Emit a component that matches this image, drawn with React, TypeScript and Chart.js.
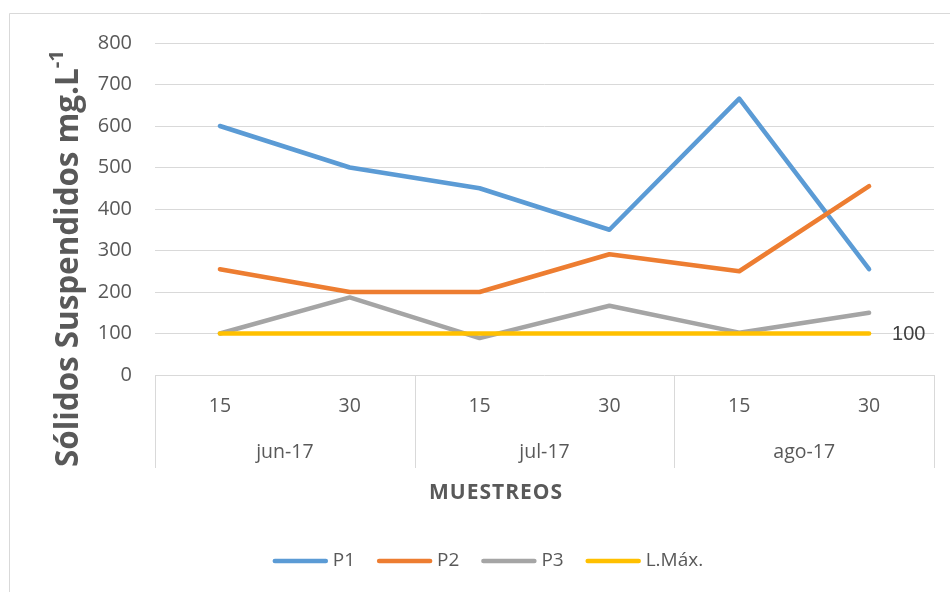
import React, { useEffect, useRef } from "react";
import { Chart, registerables } from "chart.js";

Chart.register(...registerables);

const days = ["15", "30", "15", "30", "15", "30"];
const months = ["jun-17", "jul-17", "ago-17"];
const p1 = [600, 500, 450, 350, 666, 255];
const p2 = [255, 200, 200, 291, 250, 455];
const p3 = [100, 187, 89, 167, 102, 150];
const lmax = [100, 100, 100, 100, 100, 100];
const yTicks = [0, 100, 200, 300, 400, 500, 600, 700, 800];

const FONT = "'Open Sans', 'Noto Sans', sans-serif";
const TXT = "#595959";
const GRID = "#d9d9d9";

const overlay = {
  id: "overlay",
  beforeDraw(chart: any) {
    const ctx = chart.ctx;
    ctx.save();
    ctx.fillStyle = "#ffffff";
    ctx.fillRect(0, 0, chart.width, chart.height);
    ctx.strokeStyle = GRID;
    ctx.lineWidth = 1;
    ctx.beginPath();
    ctx.moveTo(9.5, chart.height + 5);
    ctx.lineTo(9.5, 13.5);
    ctx.lineTo(chart.width + 5, 13.5);
    ctx.stroke();
    ctx.restore();
  },
  afterDraw(chart: any) {
    const ctx = chart.ctx;
    const xs = chart.scales.x;
    const ys = chart.scales.y;
    const area = chart.chartArea;
    ctx.save();
    // separators
    ctx.strokeStyle = GRID;
    ctx.lineWidth = 1;
    const groupW = (area.right - area.left) / months.length;
    ctx.beginPath();
    for (let i = 0; i <= months.length; i++) {
      const x = Math.round(area.left + groupW * i) + 0.5;
      ctx.moveTo(x, area.bottom);
      ctx.lineTo(x, 468);
    }
    ctx.stroke();
    // day labels
    ctx.fillStyle = TXT;
    ctx.font = `19.5px ${FONT}`;
    ctx.textAlign = "center";
    ctx.textBaseline = "middle";
    days.forEach((d, i) => {
      ctx.fillText(d, xs.getPixelForValue(i), 406);
    });
    months.forEach((m, i) => {
      const x = (xs.getPixelForValue(i * 2) + xs.getPixelForValue(i * 2 + 1)) / 2;
      ctx.fillText(m, x, 452);
    });
    // x title
    ctx.font = `bold 21px ${FONT}`;
    (ctx as any).letterSpacing = "1px";
    ctx.fillText("MUESTREOS", 496, 493);
    (ctx as any).letterSpacing = "0px";
    // y title
    ctx.save();
    ctx.translate(69, 258.5);
    ctx.rotate(-Math.PI / 2);
    const main = "Sólidos Suspendidos mg.L";
    const sup = "-1";
    const base = 26;
    ctx.font = `bold ${base}px ${FONT}`;
    const w0 = ctx.measureText(main).width;
    ctx.font = `bold ${base * 0.65}px ${FONT}`;
    const s0 = ctx.measureText(sup).width;
    const k = 417 / (w0 + s0);
    const fMain = base * k;
    const fSup = base * 0.65 * k;
    ctx.font = `bold ${fMain}px ${FONT}`;
    const wMain = ctx.measureText(main).width;
    ctx.font = `bold ${fSup}px ${FONT}`;
    const wSup = ctx.measureText(sup).width;
    const total = wMain + wSup;
    ctx.textAlign = "left";
    ctx.textBaseline = "middle";
    ctx.font = `bold ${fMain}px ${FONT}`;
    ctx.fillText(main, -total / 2, 0);
    ctx.font = `bold ${fSup}px ${FONT}`;
    ctx.fillText(sup, -total / 2 + wMain, -fMain * 0.38);
    ctx.restore();
    // data label
    ctx.font = `20px 'Liberation Sans', Arial, sans-serif`;
    ctx.fillStyle = "#404040";
    ctx.textAlign = "left";
    ctx.textBaseline = "middle";
    ctx.fillText(String(lmax[lmax.length - 1]), xs.getPixelForValue(lmax.length - 1) + 23, ys.getPixelForValue(lmax[lmax.length - 1]) + 1);
    // legend
    const items = chart.data.datasets.map((d: any) => ({ label: d.label, color: d.borderColor }));
    ctx.font = `19px ${FONT}`;
    const lineW = 55;
    const gapT = 5;
    const gapI = 22;
    let total2 = 0;
    items.forEach((it: any, i: number) => {
      total2 += lineW + gapT + ctx.measureText(it.label).width + (i < items.length - 1 ? gapI : 0);
    });
    let x = 488 - total2 / 2;
    const ly = 561;
    items.forEach((it: any) => {
      ctx.strokeStyle = it.color;
      ctx.lineWidth = 4.5;
      ctx.lineCap = "round";
      ctx.beginPath();
      ctx.moveTo(x + 2, ly);
      ctx.lineTo(x + lineW - 2, ly);
      ctx.stroke();
      x += lineW + gapT;
      ctx.fillStyle = TXT;
      ctx.fillText(it.label, x, ly);
      x += ctx.measureText(it.label).width + gapI;
    });
    ctx.restore();
  },
};

export default function App() {
  const ref = useRef<HTMLCanvasElement | null>(null);
  useEffect(() => {
    if (!ref.current) return;
    const mk = (label: string, data: number[], color: string, order: number) => ({
      label,
      data,
      borderColor: color,
      backgroundColor: color,
      borderWidth: 4.5,
      borderCapStyle: "round" as const,
      borderJoinStyle: "round" as const,
      pointRadius: 0,
      tension: 0,
      order,
    });
    const chart = new Chart(ref.current, {
      type: "line",
      data: {
        labels: days,
        datasets: [
          mk("P1", p1, "#5B9BD5", 3),
          mk("P2", p2, "#ED7D31", 2),
          mk("P3", p3, "#A5A5A5", 1),
          mk("L.Máx.", lmax, "#FFC000", 0),
        ],
      },
      options: {
        responsive: false,
        animation: false,
        layout: { padding: { left: 0, top: 43, right: 16, bottom: 0 } },
        plugins: { legend: { display: false }, tooltip: { enabled: false } },
        scales: {
          x: {
            offset: true,
            grid: { display: false },
            border: { display: false },
            ticks: { display: false },
            afterFit: (s: any) => {
              s.height = 217;
            },
          },
          y: {
            min: 0,
            max: 800,
            afterBuildTicks: (s: any) => {
              s.ticks = yTicks.map((v) => ({ value: v }));
            },
            grid: { color: GRID, lineWidth: 1, drawTicks: false },
            border: { display: false },
            ticks: {
              color: TXT,
              font: { family: FONT, size: 20 },
              padding: 23,
            },
            afterFit: (s: any) => {
              s.width = 155;
            },
          },
        },
      },
      plugins: [overlay],
    });
    return () => chart.destroy();
  }, []);
  return (
    <div style={{ position: "fixed", left: 0, top: 0, width: 950, height: 592, background: "#fff" }}>
      <canvas ref={ref} width={950} height={592} style={{ display: "block" }} />
    </div>
  );
}
